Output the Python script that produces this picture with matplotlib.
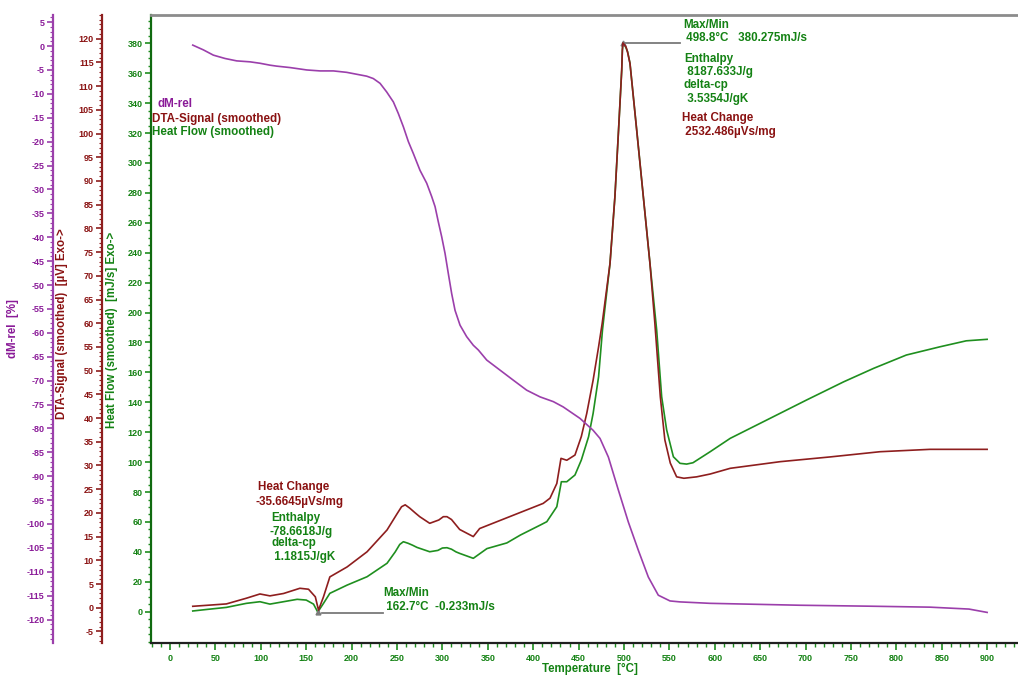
import numpy as np
import matplotlib
matplotlib.use('Agg')
import matplotlib.pyplot as plt
from matplotlib.ticker import MultipleLocator

plt.rcParams['font.family'] = ['Liberation Sans', 'DejaVu Sans']
plt.rcParams['font.weight'] = 'bold'
plt.rcParams['axes.unicode_minus'] = False

# Heat flow (smoothed), mJ/s
temp_hf = [25, 40, 62, 84, 99, 110, 125, 140, 150, 158, 162.7, 169, 176, 195, 217,
           239, 248, 253, 257, 262, 267, 272, 286, 295, 300, 305, 310, 315, 319,
           334, 349, 371, 386, 408, 415, 426, 431, 437, 446, 453, 461, 466, 472,
           476.3, 484.6, 490, 494, 497.5, 498.2, 498.8, 500.5, 502.2, 504, 506.6,
           514, 521.3, 528.6, 536, 541.5, 547, 554.4, 561.7, 569, 576, 595, 617,
           661, 701, 742, 775, 811, 848, 877, 900]
heat_flow = [0.5, 1.5, 2.9, 5.6, 6.7, 5.1, 6.7, 8.3, 7.8, 5.1, -0.233, 5.6, 12.3,
             17.8, 23.4, 32.4, 40.0, 45.0, 46.8, 45.8, 44.5, 43.0, 40.1, 41.0,
             42.6, 42.8, 41.8, 40.0, 39.0, 35.7, 42.2, 46.0, 51.3, 58.0, 60.2,
             70.2, 86.9, 86.9, 91.4, 101.4, 117.0, 132.6, 157.0, 188.3, 232.9,
             277.4, 322.0, 362.0, 375.0, 380.275, 379.0, 377.0, 374.3, 366.6,
             322.0, 277.4, 232.9, 188.3, 143.7, 121.5, 103.6, 99.2, 98.7, 99.6,
             107.0, 115.9, 129.3, 141.5, 153.7, 162.7, 171.6, 177.1, 181.1, 182.1]

# DTA signal (smoothed), uV
temp_dta = [25, 40, 62, 84, 99, 110, 125, 143, 152.5, 160, 163.5, 169, 176, 195,
            217, 239, 250, 255, 259, 264, 270, 275, 286, 296, 301, 305, 310, 319,
            334, 341, 374, 411, 418.5, 426, 430.6, 437, 446, 453, 459, 466, 472,
            476, 484.6, 490, 494, 497.5, 498.2, 498.8, 500.5, 502.2, 504, 506.6,
            514, 521.3, 528.6, 534, 540, 545, 551, 558, 566, 580, 595, 617, 672,
            727, 782, 837, 900]
dta = [0.3, 0.5, 0.8, 2.0, 2.9, 2.5, 3.0, 4.1, 3.9, 2.3, -0.5, 2.3, 6.5, 8.6,
       11.8, 16.4, 19.8, 21.3, 21.7, 21.0, 20.0, 19.2, 17.8, 18.5, 19.2, 19.2,
       18.6, 16.5, 15.0, 16.7, 19.2, 22.0, 23.1, 26.2, 31.5, 31.1, 32.2, 36.1,
       41.0, 48.0, 55.0, 60.0, 72.6, 86.7, 100.7, 113.4, 117.6, 119.1, 118.7,
       118.3, 117.1, 114.8, 100.7, 86.7, 72.6, 60.0, 44.5, 35.4, 30.5, 27.6,
       27.3, 27.6, 28.2, 29.4, 30.8, 31.8, 32.9, 33.4, 33.4]

# Relative mass change, %
temp_dm = [25, 36.7, 47.7, 60.6, 73.4, 88.1, 99.1, 110.1, 117.5, 132.2, 150.6,
           165.2, 179.9, 194.6, 205.6, 216.6, 223.9, 231.3, 238.6, 246, 251.4, 257,
           262.5, 268, 275.3, 282.7, 288.2, 291.9, 295.5, 299.2, 302.9, 306.5,
           310.2, 313.9, 319.4, 326.7, 334, 339.6, 348.8, 378, 392.8, 407.5, 422.2,
           433, 451.5, 466, 473.6, 482.8, 493.8, 504.8, 515.8, 526.8, 537.8, 550.7,
           561.7, 594.7, 694, 771, 837, 880, 900]
dm_rel = [0.2, -0.8, -1.9, -2.6, -3.1, -3.3, -3.6, -4.0, -4.2, -4.5, -5.0, -5.2,
          -5.2, -5.5, -5.9, -6.3, -6.8, -7.8, -9.6, -11.7, -14.1, -16.9, -20.0,
          -22.5, -26.0, -28.7, -31.5, -33.6, -36.8, -39.9, -43.4, -47.6, -51.8,
          -55.3, -58.4, -60.8, -62.6, -63.6, -65.7, -69.9, -72.0, -73.4, -74.4,
          -75.5, -77.9, -80.4, -82.1, -86.0, -92.9, -99.6, -105.5, -111.1, -114.9,
          -116.1, -116.3, -116.6, -117.0, -117.2, -117.4, -117.8, -118.5]

peak_t, peak_hf = 498.8, 380.275
min_t, min_hf = 162.7, -0.233

GREEN, GREEN_TXT = '#1f8f1f', '#148214'
RED, RED_TXT = '#8e1e1e', '#8a1212'
PURPLE, PURPLE_TXT = '#9b3fab', '#8a1a98'
GREY = '#7a7a7a'

W, H = 1018, 675
L, R, T, B = 151, 1018, 15, 643
fig = plt.figure(figsize=(W / 100, H / 100), dpi=100)
ax = fig.add_axes([L / W, 1 - B / H, (R - L) / W, (B - T) / H])


def fx(px):
    return px / W


def fy(py):
    return 1 - py / H


ax_dta = ax.twinx()
ax_dm = ax.twinx()

ax.set_xlim(-21, 934)
ax.set_ylim(-20.9, 398.9)
ax_dta.set_ylim(-7.44, 125.0)
ax_dm.set_ylim(-124.9, 6.5)

# frame
ax.spines['top'].set_color('#8c8c8c')
ax.spines['top'].set_linewidth(2)
ax.spines['right'].set_visible(False)
ax.spines['bottom'].set_color('#202020')
ax.spines['bottom'].set_linewidth(1.6)
ax.spines['left'].set_color('#106a10')
ax.spines['left'].set_linewidth(1.6)

ax.xaxis.set_major_locator(MultipleLocator(50))
ax.xaxis.set_minor_locator(MultipleLocator(10))
ax.tick_params(axis='x', which='major', length=5, width=1.2, colors=GREEN,
               labelcolor=GREEN_TXT, labelsize=6.5, pad=3)
ax.tick_params(axis='x', which='minor', length=3, width=1, colors=GREEN)
ax.set_yticks(np.arange(0, 381, 20))
ax.yaxis.set_minor_locator(MultipleLocator(5))
ax.tick_params(axis='y', which='major', length=4, width=1.2, colors=GREEN,
               labelcolor=GREEN_TXT, labelsize=6.5, pad=2)
ax.tick_params(axis='y', which='minor', length=2, width=1, colors=GREEN)

# extra y axes on the left: DTA and mass change
for a, spine_px, col, txtc in [(ax_dta, 102, RED, RED_TXT),
                               (ax_dm, 53, PURPLE, PURPLE_TXT)]:
    for s in ['top', 'right', 'bottom']:
        a.spines[s].set_visible(False)
    a.spines['left'].set_visible(True)
    a.spines['left'].set_position(('axes', (spine_px - L) / (R - L)))
    a.spines['left'].set_color(col)
    a.spines['left'].set_linewidth(1.6)
    a.yaxis.set_ticks_position('left')
    a.yaxis.set_label_position('left')
    a.yaxis.set_minor_locator(MultipleLocator(1))
    a.tick_params(axis='y', which='major', length=4, width=1.2, colors=col,
                  labelcolor=txtc, labelsize=6.5, pad=2)
    a.tick_params(axis='y', which='minor', length=2, width=0.8, colors=col)

ax_dta.set_yticks(np.arange(-5, 121, 5))
ax_dm.set_yticks(np.arange(-120, 6, 5))

# curves
ax_dm.plot(temp_dm, dm_rel, color=PURPLE, lw=1.2)
ax_dta.plot(temp_dta, dta, color=RED, lw=1.2)
ax.plot(temp_hf, heat_flow, color=GREEN, lw=1.2, zorder=5)

# peak / minimum markers with leader lines
ax.plot([peak_t, 561.7], [peak_hf, peak_hf], color=GREY, lw=1.3, zorder=6)
ax.plot([min_t + 5, 234.5], [min_hf - 0.8, min_hf - 0.8], color=GREY, lw=1.3, zorder=6)
ax.plot([peak_t, min_t], [peak_hf, min_hf], ls='none', marker='^', ms=3.5,
        color=GREY, zorder=7)

# y-axis titles
fig.text(fx(112), fy(330), 'Heat Flow (smoothed)  [mJ/s] Exo->', rotation=90,
         color=GREEN_TXT, fontsize=8.3, ha='center', va='center')
fig.text(fx(62), fy(324), 'DTA-Signal (smoothed)  [\u00b5V] Exo->', rotation=90,
         color=RED_TXT, fontsize=8.3, ha='center', va='center')
fig.text(fx(13), fy(329), 'dM-rel  [%]', rotation=90,
         color=PURPLE_TXT, fontsize=8.3, ha='center', va='center')
fig.text(fx(590), fy(669), 'Temperature  [\u00b0C]', color=GREEN_TXT,
         fontsize=8.3, ha='center', va='center')

# legend
fs = 8.4
fig.text(fx(157), fy(104), 'dM-rel', color=PURPLE_TXT, fontsize=fs, va='center')
fig.text(fx(152), fy(119), 'DTA-Signal (smoothed)', color=RED_TXT, fontsize=fs, va='center')
fig.text(fx(152), fy(132), 'Heat Flow (smoothed)', color=GREEN_TXT, fontsize=fs, va='center')

# peak results
fig.text(fx(683), fy(25), 'Max/Min', color=GREEN_TXT, fontsize=fs, va='center')
fig.text(fx(683), fy(38), f' {peak_t}\u00b0C   {peak_hf}mJ/s', color=GREEN_TXT,
         fontsize=fs, va='center')
fig.text(fx(684), fy(59), 'Enthalpy', color=GREEN_TXT, fontsize=fs, va='center')
fig.text(fx(684), fy(72), ' 8187.633J/g', color=GREEN_TXT, fontsize=fs, va='center')
fig.text(fx(684), fy(85), 'delta-cp', color=GREEN_TXT, fontsize=fs, va='center')
fig.text(fx(684), fy(99), ' 3.5354J/gK', color=GREEN_TXT, fontsize=fs, va='center')
fig.text(fx(682), fy(118), 'Heat Change', color=RED_TXT, fontsize=fs, va='center')
fig.text(fx(682), fy(132), ' 2532.486\u00b5Vs/mg', color=RED_TXT, fontsize=fs, va='center')

# low temperature results
fig.text(fx(258), fy(487), 'Heat Change', color=RED_TXT, fontsize=fs, va='center')
fig.text(fx(256), fy(502), '-35.6645\u00b5Vs/mg', color=RED_TXT, fontsize=fs, va='center')
fig.text(fx(271), fy(518), 'Enthalpy', color=GREEN_TXT, fontsize=fs, va='center')
fig.text(fx(270), fy(532), '-78.6618J/g', color=GREEN_TXT, fontsize=fs, va='center')
fig.text(fx(271), fy(543), 'delta-cp', color=GREEN_TXT, fontsize=fs, va='center')
fig.text(fx(271), fy(557), ' 1.1815J/gK', color=GREEN_TXT, fontsize=fs, va='center')
fig.text(fx(383), fy(593), 'Max/Min', color=GREEN_TXT, fontsize=fs, va='center')
fig.text(fx(383), fy(607), f' {min_t}\u00b0C  {min_hf}mJ/s', color=GREEN_TXT,
         fontsize=fs, va='center')

fig.savefig('out.png', dpi=100)
